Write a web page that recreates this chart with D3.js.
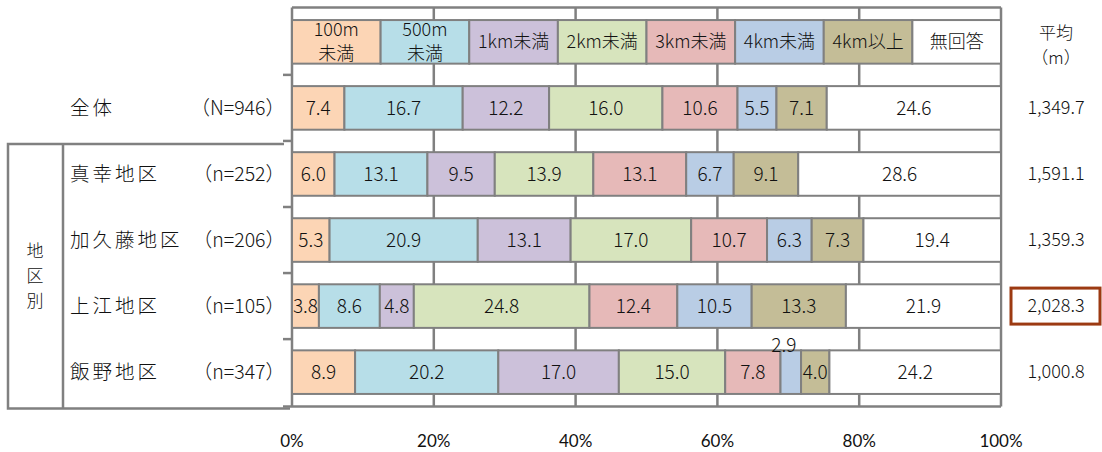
<!DOCTYPE html>
<html>
<head>
<meta charset="utf-8">
<script src="https://cdn.jsdelivr.net/npm/d3@7"></script>
<style>
  html, body { margin: 0; padding: 0; background: #fff; }
  svg { display: block; }
  text { font-family: "Noto Sans CJK JP", "Noto Sans", sans-serif; font-weight: 300; fill: #111; }
  .axis-label { font-family: Lato, "Open Sans", sans-serif; font-weight: 400; }
</style>
</head>
<body>
<svg id="chart" width="1102" height="452"></svg>
<script>
// Distance bands (legend row) and their fills
const bandLabels = [["100m", "未満"], ["500m", "未満"], ["1km未満"], ["2km未満"], ["3km未満"], ["4km未満"], ["4km以上"], ["無回答"]];
const bandColors = ["#FCD5B5", "#B7DEE8", "#CCC1DA", "#D7E4BD", "#E6B9B8", "#B9CDE5", "#C4BD97", "#FFFFFF"];

// Rows: area name and sample size
const categories = ["全体", "真幸地区", "加久藤地区", "上江地区", "飯野地区"];
const sampleLabels = ["（N=946）", "（n=252）", "（n=206）", "（n=105）", "（n=347）"];

// Share of respondents per distance band (%)
const shareTotal  = [7.4, 16.7, 12.2, 16.0, 10.6, 5.5, 7.1, 24.6];
const shareMasaki = [6.0, 13.1, 9.5, 13.9, 13.1, 6.7, 9.1, 28.6];
const shareKakuto = [5.3, 20.9, 13.1, 17.0, 10.7, 6.3, 7.3, 19.4];
const shareUwae   = [3.8, 8.6, 4.8, 24.8, 12.4, 10.5, 13.3, 21.9];
const shareIino   = [8.9, 20.2, 17.0, 15.0, 7.8, 2.9, 4.0, 24.2];

// Average distance (m)
const averageMeters = [1349.7, 1591.1, 1359.3, 2028.3, 1000.8];
const highlightedRow = "上江地区";

// Percentage axis ticks
const xTicks = [0, 20, 40, 60, 80, 100];

const shares = [shareTotal, shareMasaki, shareKakuto, shareUwae, shareIino];
const keys = bandLabels.map((d, i) => "b" + i);
const table = categories.map((c, r) => {
  const row = { category: c };
  keys.forEach((k, i) => row[k] = shares[r][i]);
  return row;
});

const svg = d3.select("#chart");
const gridColor = "#808080";

const x = d3.scaleLinear().domain([0, 1]).range([292, 1001]);
const rowsDomain = ["__legend__", ...categories];
const y = d3.scaleBand().domain(rowsDomain).range([7.5, 406.5]).paddingInner(0.34).paddingOuter(0.19);
const pct = v => x(v / 100);

// Vertical gridlines
svg.append("g").selectAll("line").data(xTicks.slice(1)).join("line")
  .attr("x1", d => pct(d)).attr("x2", d => pct(d))
  .attr("y1", y.range()[0]).attr("y2", y.range()[1])
  .attr("stroke", gridColor).attr("stroke-width", 2.5);

// Top and bottom border of the plot area
svg.append("g").selectAll("line").data(y.range()).join("line")
  .attr("x1", x(0)).attr("x2", x(1))
  .attr("y1", d => d).attr("y2", d => d)
  .attr("stroke", gridColor).attr("stroke-width", 2.5);

// Category axis line with ticks at row boundaries
svg.append("line")
  .attr("x1", x(0)).attr("x2", x(0))
  .attr("y1", y.range()[0]).attr("y2", y.range()[1])
  .attr("stroke", gridColor).attr("stroke-width", 2.5);
const boundaries = rowsDomain.slice(1).map(r => y(r) - y.step() * y.paddingInner() / 2).concat([y.range()[1]]);
svg.append("g").selectAll("line").data(boundaries).join("line")
  .attr("x1", x(0) - 9).attr("x2", x(0))
  .attr("y1", d => d).attr("y2", d => d)
  .attr("stroke", gridColor).attr("stroke-width", 2.5);

// Legend row drawn as a bar of equal-width segments
const nb = bandLabels.length;
const legend = svg.append("g");
legend.selectAll("rect").data(bandLabels).join("rect")
  .attr("x", (d, i) => x(i / nb)).attr("width", x(1 / nb) - x(0))
  .attr("y", y("__legend__")).attr("height", y.bandwidth())
  .attr("fill", (d, i) => bandColors[i])
  .attr("stroke", gridColor).attr("stroke-width", 2);
legend.selectAll("text").data(bandLabels).join("text")
  .attr("text-anchor", "middle")
  .attr("font-size", 18)
  .each(function (d, i) {
    const cx = x((i + 0.5) / nb);
    const cy = y("__legend__") + y.bandwidth() / 2;
    const lh = 24;
    d3.select(this).selectAll("tspan").data(d).join("tspan")
      .attr("x", cx)
      .attr("y", (t, j) => cy + (j - (d.length - 1) / 2) * lh)
      .attr("dy", "0.35em")
      .text(t => t);
  });

// Stacked 100% bars
const stacked = d3.stack().keys(keys).offset(d3.stackOffsetExpand)(table);
const bars = svg.append("g");
stacked.forEach((layer, li) => {
  const g = bars.append("g");
  g.selectAll("rect").data(layer).join("rect")
    .attr("x", d => x(d[0])).attr("width", d => x(d[1]) - x(d[0]))
    .attr("y", d => y(d.data.category)).attr("height", y.bandwidth())
    .attr("fill", bandColors[li])
    .attr("stroke", gridColor).attr("stroke-width", 2);
  g.selectAll("text").data(layer).join("text")
    .attr("font-size", 19)
    .attr("text-anchor", "middle")
    .attr("dy", "0.35em")
    .each(function (d) {
      const w = x(d[1]) - x(d[0]);
      const cx = (x(d[0]) + x(d[1])) / 2;
      const top = y(d.data.category);
      const narrow = w < 24;
      d3.select(this)
        .attr("x", narrow ? cx - 7 : cx)
        .attr("y", narrow ? top - 5 : top + y.bandwidth() / 2);
    })
    .text(d => d.data[keys[li]].toFixed(1));
});

// Row labels
const labels = svg.append("g");
categories.forEach((c, i) => {
  const cy = y(c) + y.bandwidth() / 2;
  labels.append("text").attr("x", 70).attr("y", cy).attr("dy", "0.35em")
    .attr("font-size", 19.5).attr("letter-spacing", 3).text(c);
  labels.append("text").attr("x", 285).attr("y", cy).attr("dy", "0.35em")
    .attr("font-size", 19.5).attr("text-anchor", "end").text(sampleLabels[i]);
});

// Bracket grouping the areas
const groupTop = y(categories[1]) - y.step() * y.paddingInner() / 2 + 3;
const groupBottom = y.range()[1] + 2;
const bracket = svg.append("g").attr("stroke", gridColor).attr("stroke-width", 2.5).attr("fill", "none");
bracket.append("path").attr("d", `M284,${groupTop} H8 V${groupBottom} H290`);
bracket.append("line").attr("x1", 63).attr("x2", 63).attr("y1", groupTop).attr("y2", groupBottom);
const groupTitle = ["地", "区", "別"];
svg.append("g").selectAll("text").data(groupTitle).join("text")
  .attr("x", 35).attr("y", (d, i) => (groupTop + groupBottom) / 2 + (i - 1) * 25)
  .attr("dy", "0.35em").attr("text-anchor", "middle").attr("font-size", 17).text(d => d);

// Average column
const avgX = 1056;
svg.append("text").attr("x", avgX).attr("y", 33).attr("dy", "0.35em")
  .attr("text-anchor", "middle").attr("font-size", 17).text("平均");
svg.append("text").attr("x", avgX).attr("y", 58).attr("dy", "0.35em")
  .attr("text-anchor", "middle").attr("font-size", 17).text("（m）");
const fmt = d3.format(",.1f");
svg.append("g").selectAll("text").data(averageMeters).join("text")
  .attr("x", avgX).attr("y", (d, i) => y(categories[i]) + y.bandwidth() / 2)
  .attr("dy", "0.35em").attr("text-anchor", "middle").attr("font-size", 18)
  .text(d => fmt(d));
const hi = categories.indexOf(highlightedRow);
svg.append("rect")
  .attr("x", 1011).attr("width", 89)
  .attr("y", y(categories[hi]) + y.bandwidth() / 2 - 18).attr("height", 36)
  .attr("fill", "none").attr("stroke", "#9C3A12").attr("stroke-width", 3);

// Percentage axis labels
svg.append("g").selectAll("text").data(xTicks).join("text")
  .attr("class", "axis-label")
  .attr("x", d => pct(d)).attr("y", 441).attr("dy", "0.35em")
  .attr("text-anchor", "middle").attr("font-size", 17)
  .text(d => d + "%");
</script>
</body>
</html>
